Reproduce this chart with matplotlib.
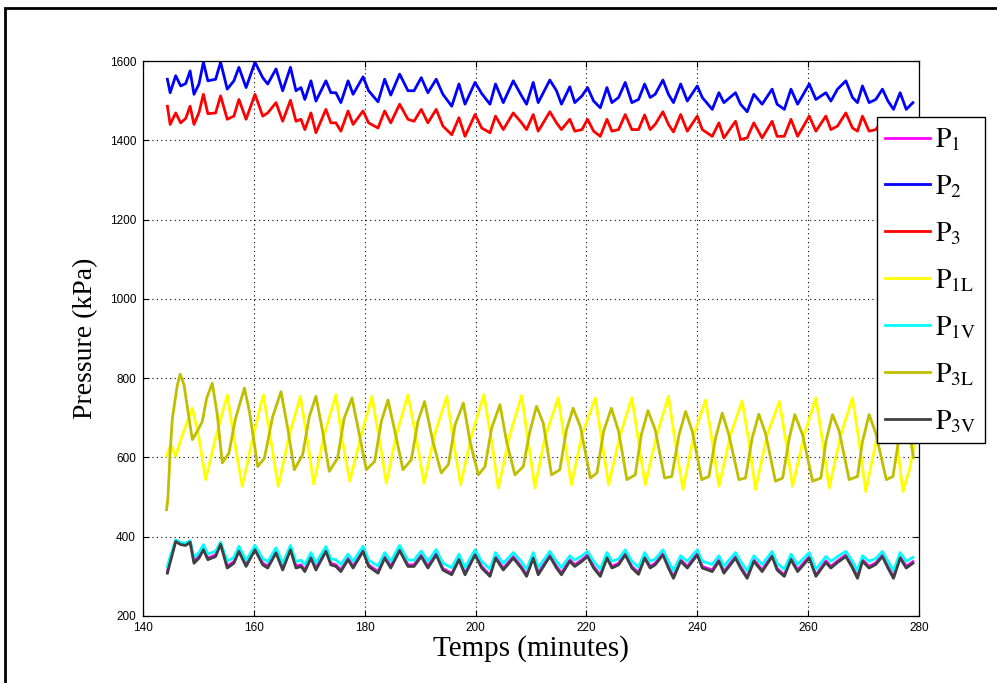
import numpy as np
import matplotlib
matplotlib.use("Agg")
import matplotlib.pyplot as plt
from matplotlib.patches import Rectangle

plt.rcParams['mathtext.fontset'] = 'stix'

# time base for the fast-cycling pressures (P1, P2, P3, P1V, P3V), minutes
t_fast = [144.4, 144.9, 145.9, 146.8, 147.7, 148.5, 149.2, 150.1, 150.9, 151.7,
          153.1, 154.0, 155.2, 156.4, 157.3, 158.6, 160.2, 161.6, 162.5, 164.0,
          165.2, 166.6, 167.6, 168.5, 169.2, 170.3, 171.2, 173.0, 173.9, 174.8,
          175.7, 177.0, 177.9, 179.7, 180.7, 182.4, 183.6, 184.7, 186.3, 187.8,
          188.9, 190.2, 191.4, 192.9, 194.1, 195.7, 197.0, 198.1, 199.9, 201.1,
          202.6, 203.6, 205.0, 206.8, 208.3, 209.2, 210.4, 211.3, 213.4, 214.6,
          215.5, 217.0, 217.9, 219.2, 220.2, 221.3, 222.5, 223.7, 224.6, 225.8,
          227.0, 228.2, 229.4, 230.5, 231.5, 232.4, 233.8, 234.8, 235.7, 237.0,
          238.2, 240.0, 240.9, 242.7, 243.9, 244.8, 246.9, 247.8, 249.0, 250.2,
          251.7, 253.5, 254.4, 255.7, 256.9, 258.1, 260.2, 261.4, 263.2, 264.1,
          265.3, 266.8, 268.0, 268.9, 269.8, 271.0, 272.2, 273.4, 274.4, 275.4,
          276.6, 277.7, 278.9]

p2 = [1554, 1520, 1563, 1537, 1543, 1575, 1516, 1542, 1597, 1550,
      1554, 1597, 1529, 1550, 1584, 1533, 1597, 1558, 1542, 1580,
      1525, 1584, 1525, 1533, 1503, 1550, 1499, 1550, 1520, 1520,
      1495, 1550, 1516, 1560, 1525, 1497, 1554, 1514, 1567, 1525,
      1525, 1558, 1520, 1554, 1516, 1486, 1542, 1491, 1546, 1518,
      1491, 1542, 1495, 1550, 1512, 1491, 1546, 1495, 1552, 1525,
      1491, 1535, 1495, 1512, 1533, 1499, 1482, 1533, 1495, 1508,
      1546, 1495, 1503, 1542, 1508, 1516, 1552, 1516, 1495, 1542,
      1499, 1537, 1508, 1478, 1520, 1495, 1520, 1491, 1472, 1516,
      1491, 1529, 1491, 1478, 1529, 1491, 1542, 1503, 1520, 1499,
      1529, 1550, 1508, 1495, 1537, 1495, 1503, 1529, 1499, 1478,
      1520, 1478, 1495]

p3 = [1486, 1440, 1469, 1444, 1455, 1486, 1440, 1470, 1516, 1467,
      1469, 1512, 1453, 1461, 1503, 1453, 1516, 1461, 1469, 1495,
      1448, 1501, 1448, 1453, 1427, 1469, 1419, 1478, 1444, 1444,
      1423, 1474, 1440, 1474, 1444, 1431, 1474, 1444, 1491, 1453,
      1448, 1478, 1444, 1478, 1436, 1414, 1457, 1410, 1465, 1431,
      1419, 1461, 1427, 1469, 1444, 1427, 1465, 1423, 1472, 1444,
      1427, 1453, 1423, 1427, 1453, 1423, 1410, 1453, 1423, 1427,
      1465, 1427, 1427, 1464, 1427, 1440, 1472, 1440, 1421, 1465,
      1423, 1461, 1427, 1410, 1444, 1406, 1448, 1402, 1406, 1444,
      1406, 1448, 1410, 1410, 1453, 1410, 1461, 1423, 1461, 1427,
      1436, 1469, 1431, 1423, 1461, 1423, 1427, 1450, 1425, 1410,
      1445, 1410, 1425]

p3v = [308, 335, 388, 380, 378, 386, 333, 346, 367, 342,
       350, 381, 321, 333, 363, 325, 367, 329, 321, 359,
       316, 367, 321, 325, 312, 346, 316, 363, 329, 325,
       312, 342, 321, 363, 325, 308, 346, 321, 365, 325,
       325, 350, 321, 354, 316, 304, 342, 304, 354, 321,
       300, 346, 316, 346, 320, 300, 346, 304, 350, 321,
       304, 338, 325, 338, 350, 321, 300, 346, 321, 329,
       354, 321, 305, 346, 321, 329, 354, 321, 295, 338,
       321, 354, 321, 312, 338, 308, 346, 321, 295, 338,
       312, 350, 316, 300, 342, 312, 346, 300, 335, 321,
       335, 350, 321, 295, 338, 321, 330, 350, 321, 295,
       346, 321, 333]

p1v = [325, 350, 392, 385, 384, 390, 348, 360, 380, 356,
       364, 386, 338, 348, 376, 340, 378, 345, 337, 372,
       333, 378, 337, 341, 330, 360, 334, 375, 344, 342,
       330, 356, 338, 376, 341, 326, 360, 338, 378, 341,
       341, 364, 338, 368, 333, 322, 356, 322, 367, 338,
       318, 360, 333, 360, 337, 318, 360, 322, 363, 338,
       322, 352, 341, 352, 363, 338, 318, 360, 338, 344,
       367, 338, 323, 360, 338, 344, 367, 338, 314, 352,
       338, 367, 338, 330, 352, 326, 360, 338, 314, 352,
       330, 363, 333, 318, 356, 330, 360, 318, 350, 338,
       350, 363, 338, 314, 352, 338, 345, 363, 338, 314,
       360, 338, 348]

p1 = [312, 340, 390, 382, 380, 388, 338, 350, 370, 346,
      354, 383, 326, 337, 366, 330, 370, 333, 326, 362,
      320, 370, 326, 329, 316, 350, 320, 366, 333, 329,
      316, 346, 325, 366, 329, 312, 350, 325, 368, 329,
      329, 354, 325, 358, 320, 307, 346, 307, 358, 325,
      303, 350, 320, 350, 324, 303, 350, 308, 354, 325,
      308, 342, 329, 342, 354, 325, 303, 350, 325, 333,
      358, 325, 309, 350, 325, 333, 358, 325, 298, 342,
      325, 358, 325, 316, 342, 312, 350, 325, 298, 342,
      316, 354, 320, 303, 346, 316, 350, 303, 339, 325,
      339, 354, 325, 298, 342, 325, 334, 354, 325, 298,
      350, 325, 337]

# liquid-side pressure P1L
t_1l = [144.25, 145.0, 145.9, 146.8, 148.9, 150.1, 151.3, 153.1, 155.2, 156.7,
        157.9, 159.8, 161.7, 163.1, 164.4, 166.4, 168.4, 169.7, 170.8, 172.7,
        174.8, 176.0, 177.3, 179.4, 181.3, 182.7, 183.9, 185.7, 187.8, 189.3,
        190.7, 192.6, 194.8, 196.0, 197.3, 199.3, 201.5, 202.9, 204.1, 206.2,
        208.3, 209.5, 210.7, 212.5, 214.9, 216.1, 217.3, 219.2, 221.6, 222.8,
        224.0, 226.1, 228.2, 229.4, 230.6, 232.7, 234.8, 236.0, 237.4, 239.4,
        241.5, 242.7, 243.9, 246.0, 248.1, 249.3, 250.5, 252.6, 254.8, 256.0,
        257.2, 259.3, 261.4, 262.6, 263.8, 265.9, 268.0, 269.2, 270.4, 272.5,
        274.8, 276.0, 277.1, 278.3, 279.3]
p1l = [603, 632, 603, 645, 724, 649, 544, 649, 758, 624,
       527, 649, 758, 640, 527, 657, 754, 640, 533, 657,
       758, 640, 540, 657, 754, 640, 535, 657, 758, 649,
       535, 657, 754, 640, 531, 657, 758, 640, 523, 657,
       756, 640, 523, 649, 751, 640, 531, 657, 750, 640,
       531, 657, 751, 640, 531, 657, 754, 640, 519, 657,
       745, 640, 527, 657, 743, 640, 519, 657, 741, 640,
       527, 657, 750, 640, 523, 657, 750, 640, 514, 657,
       752, 640, 514, 570, 640]

# liquid-side pressure P3L
t_3l = [144.25, 144.5, 144.9, 145.3, 146.2, 146.7, 147.4, 148.3, 148.9, 149.8,
        150.7, 151.5, 152.5, 153.4, 154.3, 155.5, 156.7, 158.3, 159.2, 160.7,
        161.9, 163.4, 164.9, 166.1, 167.3, 168.8, 170.0, 171.2, 172.4, 173.6,
        175.1, 176.3, 177.7, 179.1, 180.3, 181.8, 183.0, 184.2, 185.7, 186.9,
        188.4, 189.6, 190.8, 192.3, 193.8, 195.1, 196.3, 197.8, 199.0, 200.5,
        201.7, 202.9, 204.4, 205.6, 207.1, 208.6, 209.8, 211.0, 212.2, 213.7,
        215.2, 216.4, 217.6, 218.9, 220.7, 221.9, 223.1, 224.5, 225.8, 227.3,
        228.8, 229.9, 231.1, 232.4, 234.1, 235.4, 236.7, 237.9, 239.1, 240.8,
        242.1, 243.3, 244.5, 245.7, 247.5, 248.7, 249.9, 251.1, 252.3, 254.1,
        255.4, 256.6, 257.6, 259.0, 260.8, 262.3, 263.2, 264.4, 265.6, 267.4,
        268.9, 269.8, 271.0, 272.2, 274.1, 275.3, 276.2, 277.2, 278.3, 279.0]
p3l = [468, 498, 615, 699, 783, 810, 783, 699, 645, 666,
       691, 750, 787, 708, 586, 611, 699, 775, 716, 577,
       598, 703, 766, 674, 569, 607, 703, 754, 666, 565,
       598, 699, 750, 653, 569, 590, 691, 745, 649, 569,
       594, 691, 741, 640, 561, 582, 682, 737, 640, 556,
       577, 674, 733, 640, 556, 577, 666, 729, 687, 556,
       569, 670, 724, 678, 548, 561, 666, 724, 666, 544,
       556, 657, 718, 670, 548, 552, 657, 716, 666, 544,
       552, 649, 712, 657, 544, 548, 649, 709, 661, 540,
       548, 649, 708, 657, 540, 548, 640, 708, 666, 544,
       552, 640, 708, 661, 544, 552, 632, 700, 660, 600]

W, H = 997, 683
fig = plt.figure(figsize=(W / 100, H / 100), dpi=100)
ax = fig.add_axes([143 / W, 1 - 616 / H, 776 / W, 555 / H])

lw = 2.0
ax.plot(t_fast, p1, color='#ff00ff', lw=lw, label=r'$\mathrm{P_{1}}$')
ax.plot(t_fast, p2, color='#0000ff', lw=lw, label=r'$\mathrm{P_{2}}$')
ax.plot(t_fast, p3, color='#ff0000', lw=lw, label=r'$\mathrm{P_{3}}$')
ax.plot(t_1l, p1l, color='#ffff00', lw=lw, label=r'$\mathrm{P_{1L}}$')
ax.plot(t_fast, p1v, color='#00ffff', lw=lw, label=r'$\mathrm{P_{1V}}$')
ax.plot(t_3l, p3l, color='#bfbf00', lw=lw, label=r'$\mathrm{P_{3L}}$')
ax.plot(t_fast, p3v, color='#404040', lw=lw, label=r'$\mathrm{P_{3V}}$')

ax.set_xlim(140, 280)
ax.set_ylim(200, 1600)
ax.set_xticks(np.arange(140, 281, 20))
ax.set_yticks(np.arange(200, 1601, 200))
ax.grid(True, color='black', linestyle=(0, (1, 3)), linewidth=0.8)
ax.tick_params(direction='in', top=True, right=True, length=4, width=0.8,
               labelsize=8.5, colors='black')
ax.tick_params(axis='x', pad=4)
ax.tick_params(axis='y', pad=5)
for lab in ax.get_xticklabels() + ax.get_yticklabels():
    lab.set_family('Liberation Sans')
for s in ax.spines.values():
    s.set_linewidth(0.9)

ax.set_xlabel('Temps (minutes)', family='Liberation Serif', fontsize=21, labelpad=1)
ax.set_ylabel('Pressure (kPa)', family='Liberation Serif', fontsize=20, labelpad=8)

leg = ax.legend(loc='upper left', bbox_to_anchor=(877 / W, 1 - 117 / H),
                bbox_transform=fig.transFigure, fontsize=20, frameon=True,
                fancybox=False, framealpha=1, edgecolor='black',
                handlelength=1.6, handletextpad=0.2, labelspacing=0.68,
                borderpad=0.3, borderaxespad=0)
leg.get_frame().set_linewidth(1.0)
leg.set_zorder(10)

# outer figure frame
fig.patches.append(Rectangle((5 / W, -0.2), 1.2, 1 - 8 / H + 0.2,
                             transform=fig.transFigure, fill=False,
                             edgecolor='black', linewidth=2))

fig.savefig('out.png', dpi=100)
